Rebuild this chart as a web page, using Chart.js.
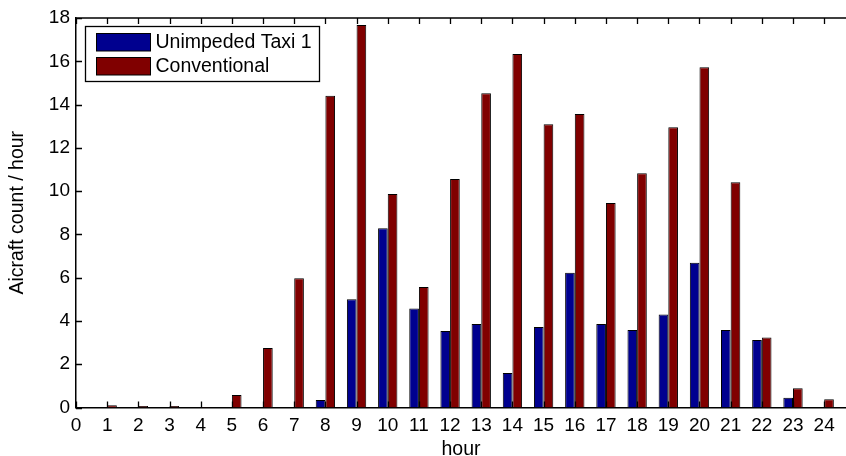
<!DOCTYPE html>
<html>
<head>
<meta charset="utf-8">
<script src="https://cdn.jsdelivr.net/npm/chart.js@4"></script>
<style>
  html, body { margin: 0; padding: 0; background: #fff; overflow: hidden; }
  #wrap { width: 846px; height: 456px; }
</style>
</head>
<body>
<div id="wrap"><canvas id="barChart" width="846" height="456"></canvas></div>
<script>
const hours = [1, 2, 3, 4, 5, 6, 7, 8, 9, 10, 11, 12, 13, 14, 15, 16, 17, 18, 19, 20, 21, 22, 23, 24];
const unimpeded = [0, 0, 0, 0, 0, 0, 0, 0.35, 5.0, 8.28, 4.58, 3.53, 3.86, 1.59, 3.72, 6.23, 3.86, 3.58, 4.3, 6.69, 3.58, 3.12, 0.45, 0];
const conventional = [0.1, 0.07, 0.07, 0.02, 0.58, 2.75, 5.97, 14.41, 17.68, 9.87, 5.57, 10.56, 14.52, 16.34, 13.09, 13.56, 9.45, 10.82, 12.95, 15.72, 10.41, 3.23, 0.89, 0.38];
const xTicks = [0, 1, 2, 3, 4, 5, 6, 7, 8, 9, 10, 11, 12, 13, 14, 15, 16, 17, 18, 19, 20, 21, 22, 23, 24];
const yTicks = [0, 2, 4, 6, 8, 10, 12, 14, 16, 18];

const FONT = "'Liberation Sans', Arial, Helvetica, sans-serif";

// MATLAB style frame: inward ticks, top border, boxed legend inside the plot
const framePlugin = {
  id: "frame",
  afterDraw(chart) {
    const c = chart.ctx;
    const a = chart.chartArea;
    const x = chart.scales.x;
    const y = chart.scales.y;
    c.save();
    c.strokeStyle = "#000";
    c.lineWidth = 1.3;
    c.beginPath();
    c.moveTo(a.left, a.top);
    c.lineTo(a.right, a.top);
    xTicks.forEach((t) => {
      const px = Math.round(x.getPixelForValue(t)) + 0.5;
      c.moveTo(px, a.bottom);
      c.lineTo(px, a.bottom - 6);
      c.moveTo(px, a.top);
      c.lineTo(px, a.top + 6);
    });
    yTicks.forEach((t) => {
      const py = Math.round(y.getPixelForValue(t)) + 0.5;
      c.moveTo(a.left, py);
      c.lineTo(a.left + 6, py);
    });
    c.stroke();

    // legend
    const lx = a.left + 9.5, ly = a.top + 8.5;
    c.fillStyle = "#fff";
    c.fillRect(lx, ly, 234, 55);
    c.lineWidth = 1.3;
    c.strokeRect(lx, ly, 234, 55);
    c.font = "19.5px " + FONT;
    c.textBaseline = "middle";
    chart.data.datasets.forEach((ds, i) => {
      const ry = ly + 7 + i * 24;
      c.fillStyle = ds.backgroundColor;
      c.fillRect(lx + 11, ry, 54, 17.5);
      c.lineWidth = 1;
      c.strokeRect(lx + 11, ry, 54, 17.5);
      c.fillStyle = "#000";
      c.fillText(ds.label, lx + 70, ry + 9.5);
    });
    c.restore();
  },
};

new Chart(document.getElementById("barChart").getContext("2d"), {
  type: "bar",
  data: {
    datasets: [
      {
        label: "Unimpeded Taxi 1",
        data: hours.map((h, i) => ({ x: h, y: unimpeded[i] })),
        backgroundColor: "#00008f",
        borderColor: "#000",
        borderWidth: 1,
        borderSkipped: "bottom",
      },
      {
        label: "Conventional",
        data: hours.map((h, i) => ({ x: h, y: conventional[i] })),
        backgroundColor: "#800000",
        borderColor: "#000",
        borderWidth: 1,
        borderSkipped: "bottom",
      },
    ],
  },
  options: {
    responsive: false,
    animation: false,
    devicePixelRatio: 1,
    categoryPercentage: 0.62,
    barPercentage: 1,
    layout: { padding: { top: 18, right: 0, bottom: 0, left: 0 } },
    plugins: { legend: { display: false }, tooltip: { enabled: false } },
    scales: {
      x: {
        type: "linear",
        offset: false,
        min: 0,
        max: 24.7,
        afterBuildTicks(s) {
          s.ticks = xTicks.map((v) => ({ value: v }));
        },
        afterFit(s) {
          s.height = 48.5;
        },
        grid: { display: false, drawTicks: false },
        border: { display: true, color: "#000", width: 1.5 },
        ticks: {
          padding: 7,
          color: "#000",
          maxRotation: 0,
          autoSkip: false,
          font: { family: FONT, size: 19 },
        },
        title: {
          display: true,
          text: "hour",
          color: "#000",
          padding: { top: 0, bottom: -5 },
          font: { family: FONT, size: 19.5 },
        },
      },
      y: {
        min: 0,
        max: 18,
        afterBuildTicks(s) {
          s.ticks = yTicks.map((v) => ({ value: v }));
        },
        afterFit(s) {
          s.width = 76;
        },
        grid: { display: false, drawTicks: false },
        border: { display: true, color: "#000", width: 1.5 },
        ticks: {
          padding: 6,
          color: "#000",
          font: { family: FONT, size: 19 },
        },
        title: {
          display: true,
          text: "Aicraft count / hour",
          color: "#000",
          padding: { top: 6, bottom: 0 },
          font: { family: FONT, size: 19.5 },
        },
      },
    },
  },
  plugins: [framePlugin],
});
</script>
</body>
</html>
